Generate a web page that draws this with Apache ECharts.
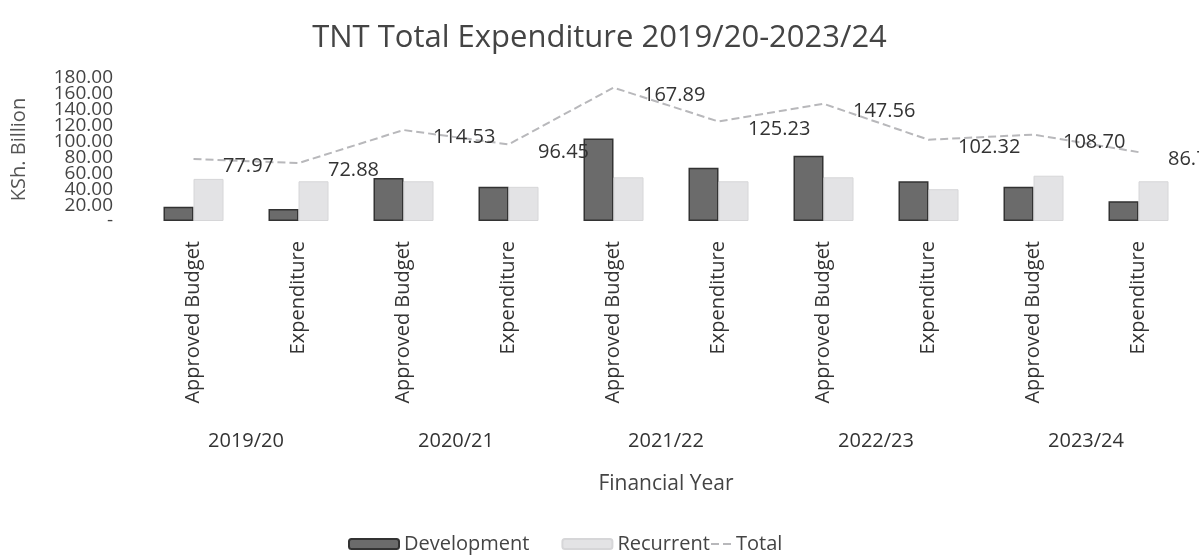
<!DOCTYPE html>
<html><head><meta charset="utf-8">
<script src="https://cdn.jsdelivr.net/npm/echarts@6/dist/echarts.min.js"></script>
<style>html,body{margin:0;padding:0;background:#fff}#c{width:1199px;height:555px}</style>
</head><body><div id="c"></div>
<script>
var categories = ['Approved Budget','Expenditure','Approved Budget','Expenditure','Approved Budget','Expenditure','Approved Budget','Expenditure','Approved Budget','Expenditure'];
var years = ['2019/20','2020/21','2021/22','2022/23','2023/24'];
var development = [18, 15, 54, 43, 104, 67, 82, 50, 43, 25];
var recurrent = [53, 50, 50, 43, 55, 50, 55, 40, 57, 50];
var total = [77.97, 72.88, 114.53, 96.45, 167.89, 125.23, 147.56, 102.32, 108.70, 86.7];
var totalLabels = ['77.97','72.88','114.53','96.45','167.89','125.23','147.56','102.32','108.70','86.7'];

var FONT = '"Open Sans", "DejaVu Sans", sans-serif';
function yLabel(v){ return v === 0 ? '-' : v.toFixed(2); }
function yAxisDef(showEven, withName) {
  var ax = {
    type: 'value', min: 0, max: 180, interval: 20, position: 'left',
    axisLine: {show: false}, axisTick: {show: false}, splitLine: {show: false},
    axisLabel: {color: '#444', margin: 28, fontFamily: FONT, fontSize: 19,
      showMinLabel: true, showMaxLabel: true,
      formatter: function(v){
        var even = (Math.round(v / 20) % 2) === 0;
        return even === showEven ? yLabel(v) : '';
      }}
  };
  if (withName) {
    ax.name = 'KSh. Billion'; ax.nameLocation = 'middle'; ax.nameGap = 112;
    ax.nameTextStyle = {fontSize: 20, color: '#555', fontFamily: FONT};
  }
  return ax;
}
var chart = echarts.init(document.getElementById('c'));
chart.setOption({
  animation: false,
  textStyle: {fontFamily: FONT},
  title: {text: 'TNT Total Expenditure 2019/20-2023/24', left: 'center', top: 18,
    textStyle: {fontFamily: FONT, fontSize: 31, fontWeight: 'normal', color: '#444'}},
  grid: {left: 141, right: 8, top: 78, bottom: 334, containLabel: false},
  legend: [{
    top: 529, left: 343, itemGap: 32, itemWidth: 50, itemHeight: 10,
    textStyle: {fontFamily: FONT, fontSize: 20, color: '#444'},
    data: ['Development','Recurrent']
  }, {
    top: 529, left: 705, itemWidth: 20, itemHeight: 10,
    textStyle: {fontFamily: FONT, fontSize: 20, color: '#444'},
    data: ['Total']
  }],
  xAxis: [{
    type: 'category', data: categories,
    axisLine: {show: false}, axisTick: {show: false},
    axisLabel: {rotate: 90, margin: 20, fontSize: 20, color: '#333', interval: 0, fontFamily: FONT}
  }, {
    type: 'category', data: years, position: 'bottom', offset: 202,
    axisLine: {show: false}, axisTick: {show: false},
    axisLabel: {fontSize: 20, color: '#333', margin: 8, fontFamily: FONT},
    name: 'Financial Year', nameLocation: 'middle', nameGap: 51,
    nameTextStyle: {fontSize: 21, color: '#444', fontFamily: FONT}
  }],
  yAxis: [yAxisDef(true, true), yAxisDef(false, false)],
  series: [{
    name: 'Development', type: 'bar', data: development, barWidth: 30, barGap: '0%',
    itemStyle: {color: '#6b6b6b', borderColor: '#333', borderWidth: 1.5}
  }, {
    name: 'Recurrent', type: 'bar', data: recurrent, barWidth: 30,
    itemStyle: {color: '#e3e3e5', borderColor: '#d6d6d8', borderWidth: 1}
  }, {
    name: 'Total', type: 'line', data: total, symbol: 'circle', symbolSize: 1, showSymbol: true,
    lineStyle: {color: '#b8b8bb', width: 2, type: 'dashed'},
    itemStyle: {color: 'rgba(0,0,0,0)'},
    labelLayout: {hideOverlap: false},
    label: {show: true, position: [30, 8], align: 'left', verticalAlign: 'middle',
      fontSize: 20, color: '#333', fontFamily: FONT,
      formatter: function(p){ return totalLabels[p.dataIndex]; }}
  }]
});
</script></body></html>
